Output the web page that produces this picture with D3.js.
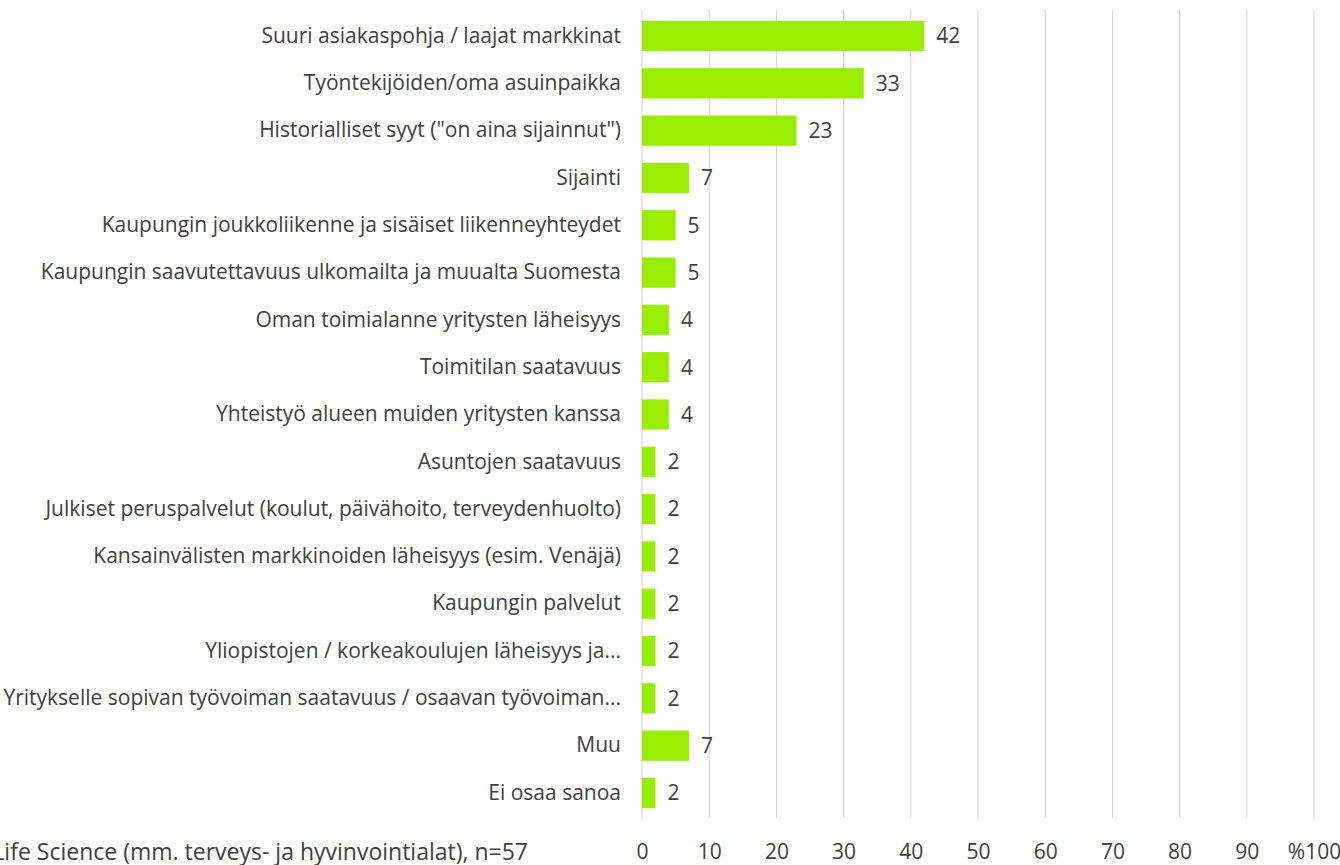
<!DOCTYPE html>
<html>
<head>
<meta charset="utf-8">
<script src="https://cdn.jsdelivr.net/npm/d3@7"></script>
<style>
  body { margin: 0; background: #fff; }
  svg text { font-family: "Open Sans", sans-serif; fill: #404040; }
</style>
</head>
<body>
<div id="chart"></div>
<script>
const categories = [
  'Suuri asiakaspohja / laajat markkinat',
  'Työntekijöiden/oma asuinpaikka',
  'Historialliset syyt ("on aina sijainnut")',
  'Sijainti',
  'Kaupungin joukkoliikenne ja sisäiset liikenneyhteydet',
  'Kaupungin saavutettavuus ulkomailta ja muualta Suomesta',
  'Oman toimialanne yritysten läheisyys',
  'Toimitilan saatavuus',
  'Yhteistyö alueen muiden yritysten kanssa',
  'Asuntojen saatavuus',
  'Julkiset peruspalvelut (koulut, päivähoito, terveydenhuolto)',
  'Kansainvälisten markkinoiden läheisyys (esim. Venäjä)',
  'Kaupungin palvelut',
  'Yliopistojen / korkeakoulujen läheisyys ja...',
  'Yritykselle sopivan työvoiman saatavuus / osaavan työvoiman...',
  'Muu',
  'Ei osaa sanoa'
];
const values = [42, 33, 23, 7, 5, 5, 4, 4, 4, 2, 2, 2, 2, 2, 2, 7, 2];
const tickValues = [0, 10, 20, 30, 40, 50, 60, 70, 80, 90, 100];
const tickLabels = ['0', '10', '20', '30', '40', '50', '60', '70', '80', '90', '%100'];
const seriesTitle = 'Life Science (mm. terveys- ja hyvinvointialat), n=57';

const W = 1340, H = 865;
const svg = d3.select('#chart').append('svg')
  .attr('width', W).attr('height', H);

const x = d3.scaleLinear().domain([0, 100]).range([642, 1314]);
const y = d3.scaleBand()
  .domain(categories)
  .range([12.35, 816.65])
  .paddingInner(0.36)
  .paddingOuter(0.18);

// vertical grid lines
svg.append('g')
  .selectAll('line')
  .data(tickValues)
  .enter().append('line')
  .attr('x1', d => x(d)).attr('x2', d => x(d))
  .attr('y1', 10).attr('y2', 818)
  .attr('stroke', '#d0d0d0')
  .attr('stroke-width', 1);

// x tick labels
const xAxis = d3.axisBottom(x)
  .tickValues(tickValues)
  .tickSize(0)
  .tickPadding(0)
  .tickFormat((d, i) => tickLabels[i]);

svg.append('g')
  .attr('transform', 'translate(0, 852)')
  .call(xAxis)
  .call(g => g.select('.domain').remove())
  .selectAll('text')
  .attr('font-size', 21)
  .attr('dy', '0.35em')
  .attr('fill', '#404040');

// category labels
const yAxis = d3.axisLeft(y).tickSize(0).tickPadding(0);
svg.append('g')
  .attr('transform', 'translate(621, 0)')
  .call(yAxis)
  .call(g => g.select('.domain').remove())
  .selectAll('text')
  .attr('font-size', 21)
  .attr('fill', '#404040');

// bars
const barGroups = svg.selectAll('.bar-g')
  .data(categories)
  .enter().append('g')
  .attr('class', 'bar-g');

barGroups.append('rect')
  .attr('x', x(0))
  .attr('y', d => y(d))
  .attr('width', (d, i) => x(values[i]) - x(0))
  .attr('height', y.bandwidth())
  .attr('fill', '#99ee00');

barGroups.append('text')
  .attr('x', (d, i) => x(values[i]) + 12)
  .attr('y', d => y(d) + y.bandwidth() / 2)
  .attr('dy', '0.35em')
  .attr('font-size', 21)
  .text((d, i) => values[i]);

// series title, partly clipped on the left like the original
svg.append('text')
  .attr('x', 528)
  .attr('y', 852)
  .attr('dy', '0.35em')
  .attr('text-anchor', 'end')
  .attr('font-size', 23)
  .text(seriesTitle);
</script>
</body>
</html>
